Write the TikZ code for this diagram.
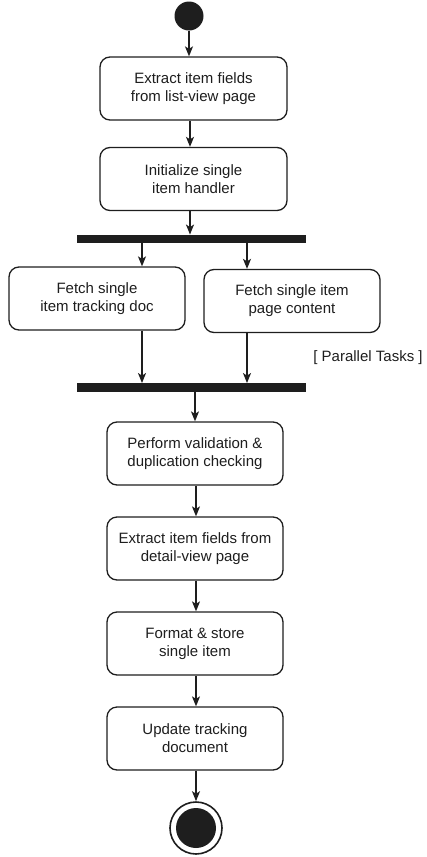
\documentclass[tikz,border=0pt]{standalone}
\usepackage{fontspec}
\setmainfont{Liberation Sans}
\usetikzlibrary{arrows.meta}
\definecolor{ink}{HTML}{1E1E1E}
\begin{document}
\begin{tikzpicture}[x=1pt,y=-1pt,
  font=\fontsize{15}{18}\selectfont,
  action/.style={draw=ink, line width=1.3pt, rounded corners=10pt, fill=white,
    minimum width=176pt, minimum height=63pt, align=center, inner sep=0pt, text=ink},
  wideaction/.style={action, minimum width=187pt},
  bar/.style={fill=ink, draw=none, minimum width=229pt, minimum height=8.5pt, inner sep=0pt},
  arr/.style={draw=ink, line width=1.2pt, -{Stealth[length=10pt,width=8pt,inset=2.5pt]}}
]
\useasboundingbox (0,0) rectangle (427,857);

% initial and final states
\node[circle, fill=ink, minimum size=29pt, inner sep=0pt] (start) at (189,16) {};
\node[circle, draw=ink, line width=1.6pt, minimum size=52pt, inner sep=0pt] (stop) at (196,828) {};
\node[circle, fill=ink, minimum size=40pt, inner sep=0pt] (stopdot) at (196,828) {};

% sequential actions before the fork
\node[wideaction] (b1) at (193.5,88.5) {Extract item fields\\from list-view page};
\node[wideaction] (b2) at (193.5,179) {Initialize single\\item handler};

% fork / join bars
\node[bar] (fork) at (191.5,239) {};
\node[bar] (join) at (191.5,387.5) {};

% parallel actions
\node[action] (pl) at (97,298.5) {Fetch single\\item tracking doc};
\node[action] (pr) at (292,301) {Fetch single item\\page content};
\node[text=ink, anchor=center] (par) at (368,358) {[ Parallel Tasks ]};

% sequential actions after the join
\node[action] (b3) at (195,453.5) {Perform validation \&\\duplication checking};
\node[action] (b4) at (195,548.5) {Extract item fields from\\detail-view page};
\node[action] (b5) at (195,643.5) {Format \& store\\single item};
\node[action] (b6) at (195,738.5) {Update tracking\\document};

% column positions for connectors
\coordinate (ctop) at (190,0);
\coordinate (cleft) at (142,0);
\coordinate (cright) at (247,0);
\coordinate (cjoin) at (195,0);
\coordinate (cbot) at (196,0);

% connectors
\draw[arr] (start.south) -- (b1.north -| start);
\draw[arr] (b1.south -| ctop) -- (b2.north -| ctop);
\draw[arr] (b2.south -| ctop) -- (fork.north -| ctop);
\draw[arr] (fork.south -| cleft) -- (pl.north -| cleft);
\draw[arr] (fork.south -| cright) -- (pr.north -| cright);
\draw[arr] (pl.south -| cleft) -- (join.north -| cleft);
\draw[arr] (pr.south -| cright) -- (join.north -| cright);
\draw[arr] (join.south -| cjoin) -- (b3.north -| cjoin);
\draw[arr] (b3.south -| cbot) -- (b4.north -| cbot);
\draw[arr] (b4.south -| cbot) -- (b5.north -| cbot);
\draw[arr] (b5.south -| cbot) -- (b6.north -| cbot);
\draw[arr] (b6.south -| cbot) -- (stop.north);
\end{tikzpicture}
\end{document}
